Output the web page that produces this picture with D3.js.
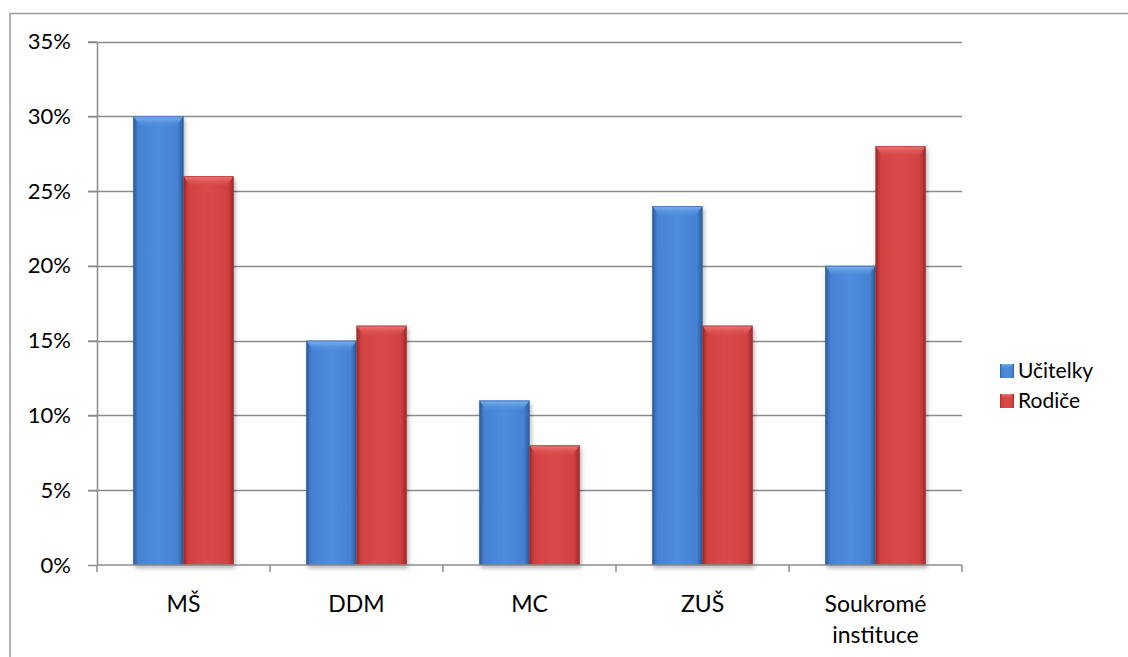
<!DOCTYPE html>
<html>
<head>
<meta charset="utf-8">
<script src="https://cdn.jsdelivr.net/npm/d3@7"></script>
<style>
  body { margin: 0; background: #fff; }
  svg { display: block; }
  text { font-family: Lato, "Open Sans", sans-serif; font-weight: 400; fill: #000; }
</style>
</head>
<body>
<div id="chart"></div>
<script>
// data
const categories = ["MŠ", "DDM", "MC", "ZUŠ", "Soukromé instituce"];
const seriesNames = ["Učitelky", "Rodiče"];
const ucitelky = [30, 15, 11, 24, 20];
const rodice = [26, 16, 8, 16, 28];
const yTicks = [0, 5, 10, 15, 20, 25, 30, 35];

const W = 1128, H = 657;
const plot = { left: 97, right: 962, top: 41.5, bottom: 565 };

const svg = d3.select("#chart").append("svg")
  .attr("width", W)
  .attr("height", H);

const defs = svg.append("defs");

// colours for the bevelled bars
const palette = {
  "Učitelky": { edge: "#2c5a98", mid: "#4582d4", light: "#4d8cdc", top: "#80b6f4" },
  "Rodiče": { edge: "#9c2a2a", mid: "#d24141", light: "#da4a4a", top: "#f07c7a" }
};

seriesNames.forEach(function(name, i) {
  const c = palette[name];
  const g = defs.append("linearGradient")
    .attr("id", "body" + i)
    .attr("x1", "0").attr("x2", "1").attr("y1", "0").attr("y2", "0");
  g.append("stop").attr("offset", "0%").attr("stop-color", c.edge);
  g.append("stop").attr("offset", "10%").attr("stop-color", c.mid);
  g.append("stop").attr("offset", "50%").attr("stop-color", c.light);
  g.append("stop").attr("offset", "88%").attr("stop-color", c.mid);
  g.append("stop").attr("offset", "100%").attr("stop-color", c.edge);

  const t = defs.append("linearGradient")
    .attr("id", "top" + i)
    .attr("x1", "0").attr("x2", "0").attr("y1", "0").attr("y2", "1");
  t.append("stop").attr("offset", "0%").attr("stop-color", c.top);
  t.append("stop").attr("offset", "100%").attr("stop-color", c.light).attr("stop-opacity", 0.2);
});

const shadow = defs.append("filter")
  .attr("id", "shadow")
  .attr("x", "-20%").attr("y", "-20%").attr("width", "140%").attr("height", "140%");
shadow.append("feDropShadow")
  .attr("dx", 1.5).attr("dy", 3)
  .attr("stdDeviation", 2.2)
  .attr("flood-color", "#000")
  .attr("flood-opacity", 0.3);

// frame round the chart
svg.append("rect")
  .attr("x", 10).attr("y", 13.5)
  .attr("width", W + 20).attr("height", H + 20)
  .attr("fill", "none")
  .attr("stroke", "#9a9a9a")
  .attr("stroke-width", 1.5);

const y = d3.scaleLinear().domain([0, 35]).range([plot.bottom, plot.top]);

const x0 = d3.scaleBand()
  .domain(categories)
  .range([plot.left, plot.right])
  .paddingInner(0.42)
  .paddingOuter(0.21);

const x1 = d3.scaleBand()
  .domain(seriesNames)
  .range([0, x0.bandwidth()]);

// gridlines (they run on into the tick marks)
svg.append("g")
  .selectAll("line")
  .data(yTicks.filter(d => d > 0))
  .join("line")
  .attr("x1", plot.left - 9)
  .attr("x2", plot.right)
  .attr("y1", d => Math.round(y(d)) + 0.5)
  .attr("y2", d => Math.round(y(d)) + 0.5)
  .attr("stroke", "#8c8c8c")
  .attr("stroke-width", 1.5);

// y axis
const yAxis = svg.append("g")
  .attr("transform", "translate(" + plot.left + ",0)")
  .call(d3.axisLeft(y).tickValues(yTicks).tickSizeInner(9).tickSizeOuter(0).tickPadding(17)
    .tickFormat(d => d + "%"));
yAxis.select(".domain").attr("stroke", "#8c8c8c").attr("stroke-width", 1.5);
yAxis.selectAll(".tick line").attr("stroke", "#8c8c8c").attr("stroke-width", 1.5);
yAxis.selectAll(".tick text")
  .style("font-size", "22px")
  .style("font-family", "Lato, 'Open Sans', sans-serif")
  .attr("fill", "#000");

// bars
const rows = categories.map((c, i) => ({ cat: c, values: [ucitelky[i], rodice[i]] }));

const groups = svg.append("g")
  .selectAll("g")
  .data(rows)
  .join("g")
  .attr("transform", d => "translate(" + x0(d.cat) + ",0)");

const bars = groups.selectAll("g")
  .data(d => d.values.map((v, i) => ({ name: seriesNames[i], idx: i, value: v })))
  .join("g")
  .attr("filter", "url(#shadow)");

bars.append("rect")
  .attr("x", d => x1(d.name))
  .attr("y", d => y(d.value))
  .attr("width", x1.bandwidth())
  .attr("height", d => y(0) - y(d.value))
  .attr("fill", d => "url(#body" + d.idx + ")");

// bevel on the top edge
bars.append("path")
  .attr("d", function(d) {
    const xa = x1(d.name), xb = xa + x1.bandwidth(), yt = y(d.value), b = 7;
    return "M" + xa + "," + yt + "L" + xb + "," + yt +
      "L" + (xb - b) + "," + (yt + b + 3) + "L" + (xa + b) + "," + (yt + b + 3) + "Z";
  })
  .attr("fill", d => "url(#top" + d.idx + ")");

bars.append("rect")
  .attr("x", d => x1(d.name) + 0.5)
  .attr("y", d => y(d.value) + 0.5)
  .attr("width", x1.bandwidth() - 1)
  .attr("height", d => y(0) - y(d.value) - 1)
  .attr("fill", "none")
  .attr("stroke", d => palette[d.name].edge)
  .attr("stroke-opacity", 0.6)
  .attr("stroke-width", 1);

// x axis
const step = x0.step();
const xAxis = svg.append("g");
xAxis.append("line")
  .attr("x1", plot.left).attr("x2", plot.right)
  .attr("y1", plot.bottom).attr("y2", plot.bottom)
  .attr("stroke", "#8c8c8c").attr("stroke-width", 1.5);
xAxis.selectAll("line.tick")
  .data(d3.range(categories.length + 1))
  .join("line")
  .attr("class", "tick")
  .attr("x1", i => plot.left + i * step)
  .attr("x2", i => plot.left + i * step)
  .attr("y1", plot.bottom)
  .attr("y2", plot.bottom + 7)
  .attr("stroke", "#8c8c8c").attr("stroke-width", 1.5);

const xl = xAxis.selectAll("text")
  .data(categories)
  .join("text")
  .attr("x", d => x0(d) + x0.bandwidth() / 2)
  .attr("y", 612)
  .attr("text-anchor", "middle")
  .style("font-size", "23px");
xl.selectAll("tspan")
  .data(d => d.split(" "))
  .join("tspan")
  .attr("x", function() { return this.parentNode.getAttribute("x"); })
  .attr("dy", (d, i) => i === 0 ? 0 : 31)
  .text(d => d);

// legend
const legend = svg.append("g")
  .selectAll("g")
  .data(seriesNames)
  .join("g")
  .attr("transform", (d, i) => "translate(1000," + (371 + i * 30) + ")");

legend.append("rect")
  .attr("x", 0).attr("y", -7)
  .attr("width", 14).attr("height", 14)
  .attr("fill", (d, i) => "url(#body" + i + ")");
legend.append("rect")
  .attr("x", 2).attr("y", -7)
  .attr("width", 10).attr("height", 4)
  .attr("fill", (d, i) => "url(#top" + i + ")");

legend.append("text")
  .attr("x", 18)
  .attr("y", 0)
  .attr("dy", "0.35em")
  .style("font-size", "21px")
  .text(d => d);
</script>
</body>
</html>
